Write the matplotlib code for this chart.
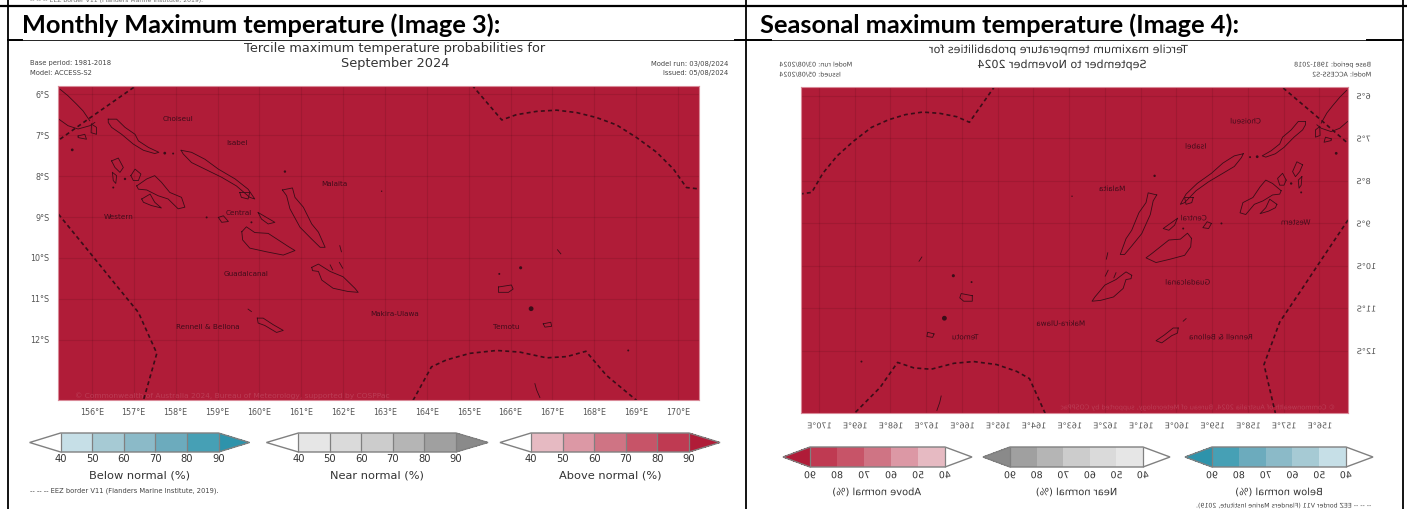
import matplotlib
matplotlib.use('Agg')
from matplotlib import pyplot as plt
from matplotlib.cm import ScalarMappable
from matplotlib.colors import BoundaryNorm, ListedColormap
from matplotlib.patheffects import AbstractPathEffect
from matplotlib.transforms import Affine2D

W, H = 1407, 509

headers = ['Monthly Maximum temperature (Image 3):', 'Seasonal maximum temperature (Image 4):']
titles_a = ['Tercile maximum temperature probabilities for', 'September 2024']
titles_b = ['Tercile maximum temperature probabilities for', 'September to November 2024']
base_period = 'Base period: 1981-2018'
model_name = 'Model: ACCESS-S2'
model_run = 'Model run: 03/08/2024'
issued = 'Issued: 05/08/2024'
credit = '© Commonwealth of Australia 2024, Bureau of Meteorology, supported by COSPPac'
eez_note = '-- -- -- EEZ border V11 (Flanders Marine Institute, 2019).'

lon_ticks = list(range(156, 171))
lat_ticks = [-6, -7, -8, -9, -10, -11, -12]
levels = [40, 50, 60, 70, 80, 90]

below_colors = ['#c6dfe7', '#a6cad4', '#8bbac8', '#6cabbd', '#46a0b5']
near_colors = ['#e6e6e6', '#dadada', '#cccccc', '#b5b5b5', '#a0a0a0']
above_colors = ['#e6bac2', '#dc98a5', '#cf7484', '#c75468', '#bf3a52']
below_over = '#2e93ab'
near_over = '#8a8a8a'
above_over = '#b01c38'

# coastlines as (lon, lat)
bougainville_a = [(155.24, -5.88), (155.43, -6.04), (155.63, -6.24), (155.79, -6.41), (155.95, -6.65)]
bougainville_b = [(155.21, -6.61), (155.43, -6.77), (155.67, -6.85), (155.95, -6.77), (156.07, -6.69)]
shortland_a = [(155.67, -7.02), (155.83, -6.98), (155.87, -7.10), (155.67, -7.06), (155.67, -7.02)]
shortland_b = [(155.99, -6.73), (156.11, -6.81), (156.11, -6.98), (155.98, -6.94), (155.99, -6.73)]
choiseul = [(156.39, -6.61), (156.59, -6.61), (156.79, -6.81), (157.03, -6.98), (157.11, -7.14), (157.35, -7.30),
            (157.60, -7.42), (157.50, -7.45), (157.23, -7.37), (156.99, -7.22), (156.71, -6.98), (156.47, -6.81),
            (156.39, -6.69), (156.39, -6.61)]
isabel = [(158.13, -7.37), (158.38, -7.42), (158.70, -7.59), (159.02, -7.83), (159.42, -8.07), (159.73, -8.32),
          (159.89, -8.56), (159.77, -8.52), (159.45, -8.24), (159.10, -8.03), (158.70, -7.83), (158.38, -7.67),
          (158.18, -7.46), (158.13, -7.37)]
isabel_tip = [(159.53, -8.40), (159.77, -8.40), (159.73, -8.56), (159.57, -8.52), (159.53, -8.40)]
vella = [(156.47, -7.63), (156.63, -7.56), (156.75, -7.79), (156.67, -7.91), (156.55, -7.79), (156.47, -7.63)]
ranongga = [(156.49, -7.91), (156.59, -7.99), (156.57, -8.18), (156.51, -8.11), (156.49, -7.91)]
kolombangara = [(156.93, -7.99), (157.03, -7.83), (157.17, -7.95), (157.11, -8.11), (156.99, -8.11), (156.93, -7.99)]
new_georgia = [(157.07, -8.24), (157.31, -8.07), (157.50, -7.99), (157.66, -8.15), (157.86, -8.40), (158.14, -8.52),
               (158.22, -8.76), (158.06, -8.80), (157.82, -8.56), (157.58, -8.48), (157.31, -8.34), (157.11, -8.32),
               (157.07, -8.24)]
rendova = [(157.19, -8.56), (157.39, -8.44), (157.50, -8.64), (157.66, -8.78), (157.42, -8.72), (157.23, -8.64),
           (157.19, -8.56)]
russell = [(159.02, -9.01), (159.14, -8.97), (159.26, -9.11), (159.10, -9.13), (159.02, -9.01)]
florida = [(159.97, -8.89), (160.17, -9.01), (160.37, -9.13), (160.21, -9.17), (160.05, -9.05), (159.97, -8.89)]
malaita = [(160.55, -8.34), (160.79, -8.29), (160.85, -8.52), (161.05, -8.76), (161.25, -9.17), (161.41, -9.37),
           (161.57, -9.74), (161.45, -9.74), (161.25, -9.54), (160.97, -9.25), (160.73, -8.80), (160.65, -8.48),
           (160.55, -8.34)]
guadalcanal = [(159.58, -9.36), (159.69, -9.24), (159.89, -9.38), (160.21, -9.40), (160.45, -9.56), (160.69, -9.72),
               (160.85, -9.82), (160.57, -9.93), (160.17, -9.85), (159.77, -9.76), (159.60, -9.56), (159.58, -9.36)]
makira = [(161.25, -10.23), (161.41, -10.15), (161.69, -10.33), (162.00, -10.46), (162.28, -10.74), (162.36, -10.84),
          (162.12, -10.82), (161.76, -10.74), (161.49, -10.54), (161.41, -10.33), (161.27, -10.31), (161.25, -10.23)]
ulawa = [(161.69, -10.17), (161.75, -10.29)]
ugi = [(161.91, -10.11), (161.99, -10.25)]
sikaiana = [(161.92, -9.70), (161.96, -9.85)]
rennell = [(159.95, -11.47), (160.09, -11.47), (160.33, -11.63), (160.57, -11.77), (160.41, -11.82), (160.13, -11.65),
           (159.97, -11.59), (159.95, -11.47)]
bellona = [(159.73, -11.25), (159.81, -11.31)]
nendo = [(165.71, -10.71), (166.02, -10.66), (166.06, -10.76), (165.95, -10.84), (165.71, -10.84), (165.71, -10.71)]
vanikoro = [(166.78, -11.61), (166.96, -11.57), (166.98, -11.67), (166.82, -11.69), (166.78, -11.61)]
torres = [(166.58, -13.07), (166.62, -13.22), (166.70, -13.41)]
reef_bit = [(167.12, -9.80), (167.20, -9.90)]
coasts = [bougainville_a, bougainville_b, shortland_a, shortland_b, choiseul, isabel, isabel_tip, vella, ranongga,
          kolombangara, new_georgia, rendova, russell, florida, malaita, guadalcanal, makira, ulawa, ugi, sikaiana,
          rennell, bellona, nendo, vanikoro, torres, reef_bit]
islet_lons = [155.53, 156.79, 156.51, 157.74, 157.94, 160.61, 158.74, 159.81, 162.92, 166.24, 165.73, 168.81, 166.49]
islet_lats = [-7.36, -8.07, -8.28, -7.44, -7.45, -7.89, -9.01, -9.13, -8.37, -10.24, -10.39, -12.26, -11.24]
islet_sizes = [4, 3, 2, 4, 2, 3, 2, 2, 1, 5, 2, 2, 12]

# EEZ border pieces
eez_nw = [(155.10, -7.20), (155.91, -6.61), (156.99, -5.84), (157.05, -5.78)]
eez_w = [(155.20, -8.93), (155.91, -9.82), (156.55, -10.63), (157.11, -11.33), (157.55, -12.33), (157.23, -13.48)]
eez_ne = [(165.08, -5.78), (165.79, -6.63), (166.14, -6.50), (166.62, -6.42), (167.10, -6.39), (167.58, -6.45),
          (168.05, -6.57), (168.53, -6.75), (169.01, -7.06), (169.49, -7.42), (169.89, -7.83), (170.20, -8.28),
          (170.55, -8.32)]
eez_s = [(163.67, -13.48), (164.11, -12.66), (164.47, -12.49), (165.03, -12.33), (165.67, -12.26), (166.22, -12.30),
         (166.86, -12.44), (167.34, -12.41), (167.80, -12.28), (168.29, -12.87), (169.01, -13.48)]
eez_lines = [eez_nw, eez_w, eez_ne, eez_s]

province_names = ['Choiseul', 'Isabel', 'Malaita', 'Western', 'Central', 'Guadalcanal', 'Makira-Ulawa',
                  'Rennell & Bellona', 'Temotu']
province_lons = [158.06, 159.46, 161.80, 156.65, 159.51, 159.68, 163.24, 158.76, 165.89]
province_lats = [-6.61, -7.20, -8.20, -8.99, -8.89, -10.40, -11.37, -11.69, -11.69]


class Mirror(AbstractPathEffect):
    # keeps the text a text object, only its glyphs get flipped left to right
    def draw_path(self, renderer, gc, tpath, affine, rgbFace=None):
        x0, _, x1, _ = tpath.get_extents(affine).extents
        c = (x0 + x1) / 2
        flip = Affine2D().translate(-c, 0).scale(-1, 1).translate(c, 0)
        renderer.draw_path(gc, tpath, affine + flip, rgbFace)


def px_axes(fig, x0, x1, y0, y1):
    return fig.add_axes([x0 / W, 1 - y1 / H, (x1 - x0) / W, (y1 - y0) / H])


def put_text(fig, x, y, s, flip=False, **kw):
    t = fig.text(x / W, 1 - y / H, s, va='center', **kw)
    if flip:
        t.set_path_effects([Mirror()])
    return t


def draw_map(fig, box, xlim, flip):
    ax = px_axes(fig, *box)
    ax.set_facecolor(above_over)
    ax.set_xlim(*xlim)
    ax.set_ylim(-13.47, -5.8)
    ax.set_xticks(lon_ticks)
    ax.set_yticks(lat_ticks)
    ax.set_xticklabels(['%d°E' % v for v in lon_ticks], fontsize=5.8, color='#555555')
    ax.set_yticklabels(['%d°S' % -v for v in lat_ticks], fontsize=5.8, color='#555555')
    ax.tick_params(length=0, pad=6, axis='x')
    ax.tick_params(length=0, pad=6, axis='y')
    ax.grid(color='black', alpha=0.09, lw=0.8)
    ax.set_axisbelow(True)
    for s in ax.spines.values():
        s.set_color('#d98a98')
        s.set_linewidth(0.8)
    for line in coasts:
        lons, lats = zip(*line)
        ax.plot(lons, lats, color='#3a0d18', lw=0.6, solid_joinstyle='round')
    ax.scatter(islet_lons, islet_lats, s=islet_sizes, color='#3a0d18', linewidths=0)
    for line in eez_lines:
        lons, lats = zip(*line)
        ax.plot(lons, lats, color='#3a0d18', lw=1.2, ls=(0, (2.4, 1.9)))
    for name, lon, lat in zip(province_names, province_lons, province_lats):
        t = ax.text(lon, lat, name, fontsize=5.2, color='#3f0c1a', ha='center', va='center')
        if flip:
            t.set_path_effects([Mirror()])
    if flip:
        ax.yaxis.tick_right()
        for t in ax.get_xticklabels() + ax.get_yticklabels():
            t.set_path_effects([Mirror()])
    return ax


def draw_bar(fig, x0, x1, y0, y1, tip, colors, over, label, flip, tick_size, label_size, tick_pad, label_pad):
    # x0..x1 is the 40-90 body, the triangles go outside it
    ax = px_axes(fig, x0 - tip, x1 + tip, y0, y1)
    cmap = ListedColormap(colors).with_extremes(under='white', over=over)
    cb = fig.colorbar(ScalarMappable(BoundaryNorm(levels, cmap.N), cmap), cax=ax, orientation='horizontal',
                      extend='both', extendfrac=tip / (x1 - x0), ticks=levels, spacing='proportional',
                      drawedges=True)
    cb.outline.set_edgecolor('#808080')
    cb.outline.set_linewidth(1.0)
    cb.dividers.set_color('#808080')
    cb.dividers.set_linewidth(0.9)
    ax.tick_params(length=0, pad=tick_pad, labelsize=tick_size, labelcolor='#333333')
    ax.set_xticklabels([str(v) for v in levels])
    ax.set_xlabel(label, fontsize=label_size, color='#333333', labelpad=label_pad)
    if flip:
        ax.invert_xaxis()
        ax.xaxis.label.set_path_effects([Mirror()])
        for t in ax.get_xticklabels():
            t.set_path_effects([Mirror()])


fig = plt.figure(figsize=(W / 100, H / 100), dpi=100)
plt.rcParams['font.family'] = 'DejaVu Sans'

# table rules around the pasted pictures
rules = fig.add_axes([0, 0, 1, 1], zorder=5)
rules.set_xlim(0, W)
rules.set_ylim(H, 0)
rules.axis('off')
rules.plot([0, W], [5.5, 5.5], color='black', lw=1.6)
rules.plot([8, 8], [0, H], color='black', lw=1.3)
rules.plot([746, 746], [0, H], color='black', lw=1.3)
rules.plot([1403, 1403], [0, H], color='black', lw=1.3)
rules.plot([8, 1403], [39.5, 39.5], color='black', lw=0.6)
for a, b in [(8, 22), (735, 771), (1367, 1403)]:
    rules.plot([a, b], [39.5, 39.5], color='black', lw=1.4)

put_text(fig, 30, 0.5, eez_note, fontsize=4.4, color='#666666')

put_text(fig, 22, 25, headers[0], fontfamily='Lato', fontweight='bold', fontsize=18.3, color='black')
put_text(fig, 760, 25, headers[1], fontfamily='Lato', fontweight='bold', fontsize=18.3, color='black')

# left picture
put_text(fig, 395, 48.5, titles_a[0], fontsize=9.25, color='#333333', ha='center')
put_text(fig, 395, 64, titles_a[1], fontsize=9.25, color='#333333', ha='center')
put_text(fig, 30, 63, base_period, fontsize=4.9, color='#444444')
put_text(fig, 30, 73, model_name, fontsize=4.9, color='#444444')
put_text(fig, 728, 64, model_run, fontsize=4.9, color='#444444', ha='right')
put_text(fig, 728, 73, issued, fontsize=4.9, color='#444444', ha='right')
draw_map(fig, (58, 699, 86, 400), (155.19, 170.5), False)
put_text(fig, 75, 396, credit, fontsize=5.4, color='#bb3c55', zorder=6)
draw_bar(fig, 60.6, 218.5, 433, 452, 31, below_colors, below_over, 'Below normal (%)', False, 7.2, 8.2, 1.2, 5)
draw_bar(fig, 298.4, 456, 433, 452, 32, near_colors, near_over, 'Near normal (%)', False, 7.2, 8.2, 1.2, 5)
draw_bar(fig, 531, 689, 433, 452, 31, above_colors, above_over, 'Above normal (%)', False, 7.2, 8.2, 1.2, 5)
put_text(fig, 30, 491, eez_note, fontsize=4.9, color='#444444')

# right picture, the same map pasted mirrored
put_text(fig, 1059, 50, titles_b[0], flip=True, fontsize=8.0, color='#333333', ha='center')
put_text(fig, 1062, 65, titles_b[1], flip=True, fontsize=8.0, color='#333333', ha='center')
put_text(fig, 1371, 65, base_period, flip=True, fontsize=4.6, color='#444444', ha='right')
put_text(fig, 1371, 75, model_name, flip=True, fontsize=4.6, color='#444444', ha='right')
put_text(fig, 779, 65, model_run, flip=True, fontsize=4.6, color='#444444', ha='left')
put_text(fig, 779, 75, issued, flip=True, fontsize=4.6, color='#444444', ha='left')
draw_map(fig, (801.4, 1348, 87, 413), (170.49, 155.2), True)
put_text(fig, 1336, 407, credit, flip=True, fontsize=4.7, color='#bb3c55', ha='right', zorder=6)
draw_bar(fig, 810, 945, 447, 467, 27, above_colors, above_over, 'Above normal (%)', True, 6.8, 7.1, 3, 5)
draw_bar(fig, 1010, 1143, 447, 467, 27, near_colors, near_over, 'Near normal (%)', True, 6.8, 7.1, 3, 5)
draw_bar(fig, 1212, 1346, 447, 467, 27, below_colors, below_over, 'Below normal (%)', True, 6.8, 7.1, 3, 5)
put_text(fig, 1372, 506, eez_note, flip=True, fontsize=4.5, color='#444444', ha='right')

fig.savefig('out.png', dpi=100)
